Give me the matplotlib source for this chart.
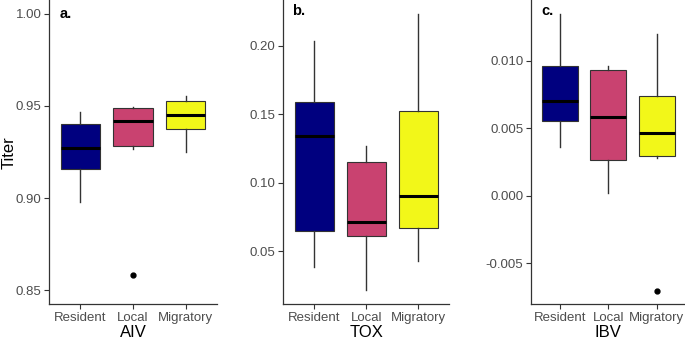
import matplotlib
matplotlib.use("Agg")
import matplotlib.pyplot as plt
from matplotlib.ticker import FormatStrFormatter

plt.rcParams['font.family'] = ['Liberation Sans', 'DejaVu Sans']
plt.rcParams['axes.unicode_minus'] = False

groups = ["Resident", "Local", "Migratory"]
colors = ["#00007F", "#C94270", "#F2F719"]

# AIV
aiv_med = [0.927, 0.942, 0.945]
aiv_q1 = [0.9155, 0.928, 0.9375]
aiv_q3 = [0.940, 0.9487, 0.9527]
aiv_lo = [0.898, 0.9265, 0.925]
aiv_hi = [0.947, 0.9494, 0.9552]
aiv_out = [[], [0.858], []]

# TOX
tox_med = [0.1344, 0.0713, 0.0907]
tox_q1 = [0.0652, 0.0609, 0.0669]
tox_q3 = [0.1587, 0.1153, 0.1527]
tox_lo = [0.0388, 0.0218, 0.0429]
tox_hi = [0.2031, 0.1267, 0.2231]
tox_out = [[], [], []]

# IBV
ibv_med = [0.0070, 0.00584, 0.00468]
ibv_q1 = [0.00556, 0.00267, 0.00294]
ibv_q3 = [0.00963, 0.00933, 0.0074]
ibv_lo = [0.00364, 0.00022, 0.00277]
ibv_hi = [0.01346, 0.00963, 0.0120]
ibv_out = [[], [], [-0.00703]]


def box_stats(med, q1, q3, lo, hi, out):
    stats = []
    for i in range(len(med)):
        stats.append(dict(med=med[i], q1=q1[i], q3=q3[i],
                          whislo=lo[i], whishi=hi[i], fliers=out[i]))
    return stats


def draw_panel(ax, stats, ylim, yticks, fmt, xlabel, tag, tag_x, tag_y):
    bp = ax.bxp(stats, positions=[1, 2, 3], widths=0.75, patch_artist=True,
                showcaps=False,
                boxprops=dict(edgecolor="#333333", linewidth=0.8),
                whiskerprops=dict(color="#333333", linewidth=1.0),
                medianprops=dict(color="black", linewidth=2.2),
                flierprops=dict(marker="o", markerfacecolor="black",
                                markeredgecolor="black", markersize=3.5))
    for patch, c in zip(bp["boxes"], colors):
        patch.set_facecolor(c)
    ax.set_xlim(0.4, 3.6)
    ax.set_ylim(*ylim)
    ax.set_yticks(yticks)
    ax.yaxis.set_major_formatter(FormatStrFormatter(fmt))
    ax.set_xticks([1, 2, 3])
    ax.set_xticklabels(groups)
    for spine in ["top", "right"]:
        ax.spines[spine].set_visible(False)
    for spine in ["left", "bottom"]:
        ax.spines[spine].set_color("#333333")
        ax.spines[spine].set_linewidth(0.9)
    ax.tick_params(axis="both", length=3.5, width=0.8, color="#333333",
                   labelcolor="#4D4D4D", labelsize=9.5, pad=2)
    ax.set_xlabel(xlabel, fontsize=12, labelpad=1)
    ax.text(tag_x, tag_y, tag, transform=ax.transAxes, fontsize=10.5,
            fontweight="bold", ha="left", va="center")


fig = plt.figure(figsize=(6.85, 3.41), dpi=100)
ax1 = fig.add_axes([0.0715, 0.1085, 0.2453, 0.8915])
ax2 = fig.add_axes([0.4136, 0.1085, 0.2423, 0.8915])
ax3 = fig.add_axes([0.7752, 0.1085, 0.2257, 0.8915])

draw_panel(ax1, box_stats(aiv_med, aiv_q1, aiv_q3, aiv_lo, aiv_hi, aiv_out),
           (0.8424, 1.0076), [0.85, 0.90, 0.95, 1.00], "%.2f", "AIV",
           "a.", 0.065, 1 - 14 / 304)
draw_panel(ax2, box_stats(tox_med, tox_q1, tox_q3, tox_lo, tox_hi, tox_out),
           (0.0116, 0.2333), [0.05, 0.10, 0.15, 0.20], "%.2f", "TOX",
           "b.", 0.055, 1 - 11 / 304)
draw_panel(ax3, box_stats(ibv_med, ibv_q1, ibv_q3, ibv_lo, ibv_hi, ibv_out),
           (-0.00801, 0.0145), [-0.005, 0.0, 0.005, 0.010], "%.3f", "IBV",
           "c.", 0.068, 1 - 11 / 304)

ax1.set_ylabel("Titer", fontsize=12)
ax1.yaxis.set_label_coords(-0.19, 0.497)

fig.savefig("out.png", dpi=100)
